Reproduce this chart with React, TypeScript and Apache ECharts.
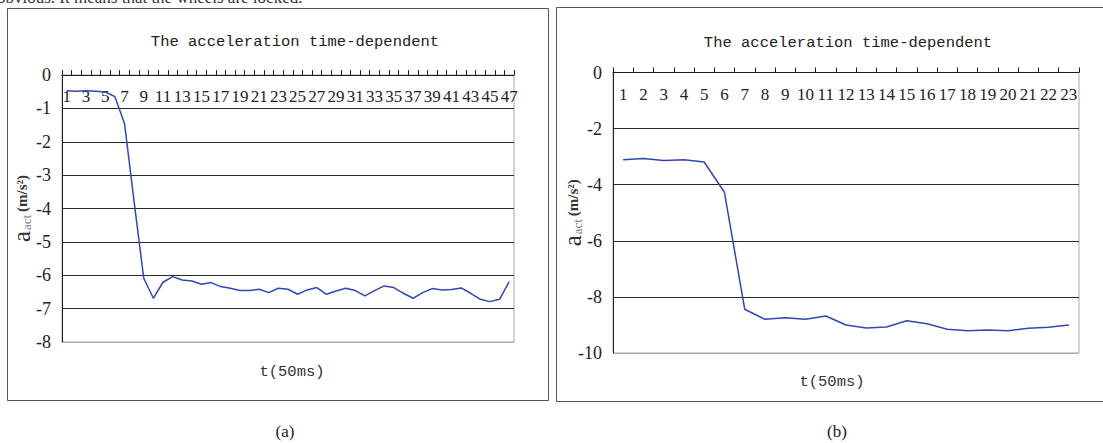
import React, { useEffect, useRef } from "react";
import * as echarts from "echarts";

const TITLE = "The acceleration time-dependent";
const X_NAME = "t(50ms)";
const TOP_TEXT = "obvious. It means that the wheels are locked.";
const CAPTIONS = ["(a)", "(b)"];

const catA = [
  "1", "2", "3", "4", "5", "6", "7", "8", "9", "10",
  "11", "12", "13", "14", "15", "16", "17", "18", "19", "20",
  "21", "22", "23", "24", "25", "26", "27", "28", "29", "30",
  "31", "32", "33", "34", "35", "36", "37", "38", "39", "40",
  "41", "42", "43", "44", "45", "46", "47",
];
const accA = [
  -0.47, -0.49, -0.47, -0.49, -0.51, -0.65, -1.45, -3.8, -6.09, -6.69,
  -6.21, -6.04, -6.14, -6.17, -6.27, -6.22, -6.34, -6.39, -6.46, -6.46,
  -6.42, -6.52, -6.39, -6.42, -6.57, -6.44, -6.37, -6.57, -6.47, -6.39,
  -6.46, -6.62, -6.46, -6.32, -6.37, -6.54, -6.69, -6.52, -6.4, -6.44,
  -6.43, -6.38, -6.54, -6.72, -6.79, -6.72, -6.19,
];

const catB = [
  "1", "2", "3", "4", "5", "6", "7", "8", "9", "10",
  "11", "12", "13", "14", "15", "16", "17", "18", "19", "20",
  "21", "22", "23",
];
const accB = [
  -3.11, -3.07, -3.14, -3.11, -3.19, -4.27, -8.44, -8.8, -8.74, -8.8,
  -8.68, -9.0, -9.11, -9.07, -8.85, -8.96, -9.15, -9.21, -9.18, -9.21,
  -9.12, -9.08, -9.0,
];

const SERIF = '"Liberation Serif", "DejaVu Serif", serif';
const MONO = '"Liberation Mono", "DejaVu Sans Mono", monospace';
const LINE_COLOR = "#3447b0";
const DARK = "#1e1e1e";

const yName = "{a|a}{s|act}{u|(m/s²)}";
const yNameRich = {
  a: { fontFamily: SERIF, fontSize: 25, color: "#333" },
  s: { fontFamily: SERIF, fontSize: 13, color: "#777", padding: [10, 3, 0, 1] },
  u: { fontFamily: SERIF, fontSize: 15, fontWeight: "bold", color: "#333" },
};

function splitColors(n: number) {
  const arr: string[] = [];
  for (let i = 0; i < n; i++) arr.push(i === 0 ? "#aaa" : "#2a2a2a");
  return arr;
}

function xAxisCfg(gridIndex: number, data: string[], labelInterval: number) {
  return {
    type: "category",
    gridIndex,
    position: "top",
    data,
    boundaryGap: true,
    axisLine: { show: true, lineStyle: { color: DARK, width: 1 } },
    axisTick: { show: true, interval: 0, length: 5, inside: false, lineStyle: { color: DARK } },
    axisLabel: {
      inside: true,
      interval: labelInterval,
      margin: 13,
      fontFamily: SERIF,
      fontSize: 17,
      color: "#222",
      hideOverlap: false,
    },
    splitLine: { show: false },
  };
}

function yAxisCfg(gridIndex: number, min: number, interval: number, nameGap: number) {
  const n = Math.round(-min / interval) + 1;
  return {
    type: "value",
    gridIndex,
    min,
    max: 0,
    interval,
    axisLine: { show: true, lineStyle: { color: DARK, width: 1 } },
    axisTick: { show: false },
    axisLabel: { margin: 11, fontFamily: SERIF, fontSize: 18, color: "#222" },
    splitLine: { show: true, lineStyle: { color: splitColors(n), width: 1 } },
    name: yName,
    nameLocation: "middle",
    nameRotate: 90,
    nameGap,
    nameMoveOverlap: false,
    nameTextStyle: { rich: yNameRich },
  };
}

function txt(text: string, x: number, y: number, font: string, size: number, color = "#222") {
  return {
    type: "text",
    x,
    y,
    silent: true,
    style: {
      text,
      fontFamily: font,
      fontSize: size,
      fill: color,
      align: "center",
      verticalAlign: "middle",
    },
  };
}

export default function App() {
  const ref = useRef<HTMLDivElement>(null);
  useEffect(() => {
    if (!ref.current) return;
    const chart = echarts.init(ref.current, undefined, { renderer: "svg" });
    chart.setOption({
      animation: false,
      backgroundColor: "#fff",
      grid: [
        {
          left: 62, top: 75, width: 452, height: 267,
          show: true, borderColor: "#aaa", borderWidth: 1,
          containLabel: false, outerBoundsMode: "none",
        },
        {
          left: 613, top: 72.5, width: 466, height: 280.5,
          show: true, borderColor: "#aaa", borderWidth: 1,
          containLabel: false, outerBoundsMode: "none",
        },
      ],
      xAxis: [xAxisCfg(0, catA, 1), xAxisCfg(1, catB, 0)],
      yAxis: [yAxisCfg(0, -8, 1, 28), yAxisCfg(1, -10, 2, 28)],
      series: [
        {
          type: "line",
          xAxisIndex: 0,
          yAxisIndex: 0,
          data: accA,
          symbol: "none",
          showSymbol: false,
          lineStyle: { color: LINE_COLOR, width: 1.5 },
        },
        {
          type: "line",
          xAxisIndex: 1,
          yAxisIndex: 1,
          data: accB,
          symbol: "none",
          showSymbol: false,
          lineStyle: { color: LINE_COLOR, width: 1.5 },
        },
      ],
      graphic: [
        {
          type: "rect",
          silent: true,
          shape: { x: 7.5, y: 8.5, width: 541, height: 392 },
          style: { fill: "none", stroke: "#555", lineWidth: 1 },
        },
        {
          type: "rect",
          silent: true,
          shape: { x: 556.5, y: 7.5, width: 560, height: 394 },
          style: { fill: "none", stroke: "#555", lineWidth: 1 },
        },
        {
          type: "text",
          x: -3,
          y: 6,
          silent: true,
          style: {
            text: TOP_TEXT,
            fontFamily: SERIF,
            fontSize: 17,
            fill: "#333",
            align: "left",
            verticalAlign: "bottom",
          },
        },
        txt(TITLE, 295, 42, MONO, 15.5),
        txt(TITLE, 848, 43, MONO, 15.5),
        txt(X_NAME, 292, 372, MONO, 15.5, "#333"),
        txt(X_NAME, 832, 382, MONO, 15.5, "#333"),
        txt(CAPTIONS[0], 285, 431, SERIF, 17),
        txt(CAPTIONS[1], 837, 431, SERIF, 17),
      ],
    });
    return () => chart.dispose();
  }, []);
  return (
    <div
      ref={ref}
      style={{ position: "fixed", left: 0, top: 0, width: 1103, height: 443, background: "#fff" }}
    />
  );
}
